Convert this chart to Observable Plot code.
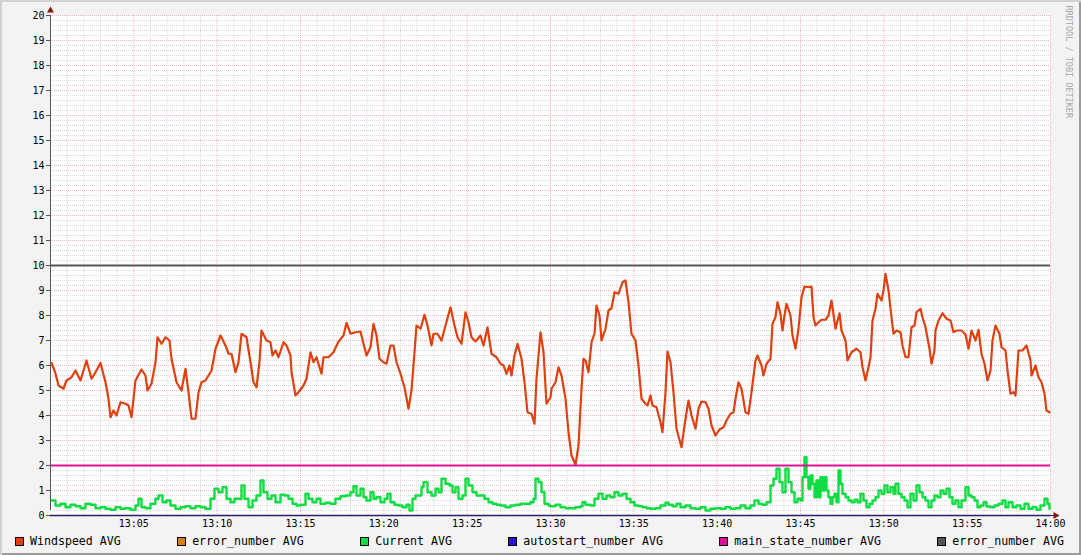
<!DOCTYPE html>
<html>
<head>
<meta charset="utf-8">
<script src="https://cdn.jsdelivr.net/npm/d3@7"></script>
<script src="https://cdn.jsdelivr.net/npm/@observablehq/plot@0.6"></script>
<style>
  html, body { margin: 0; padding: 0; background: #f3f3f3; }
  #chart {
    position: relative; width: 1081px; height: 555px; background: #f3f3f3;
    box-shadow: inset 2px 2px 0 #d2d2d2, inset -2px -2px 0 #9c9c9c;
    font-family: "DejaVu Sans Mono", monospace;
  }
  #chart svg { display: block; }
  #legend {
    display: flex; justify-content: space-between; align-items: center;
    height: 22px; padding: 0 17px 0 15px; font-size: 11.6px; color: #000;
  }
  .item { display: flex; align-items: center; white-space: pre; }
  .sw { width: 7px; height: 7px; border: 1px solid #000; margin-right: 6px; }
</style>
</head>
<body>
<div id="chart"></div>
<script>
// ---- data (time = minutes after 13:00) ----
const xTickMinutes = [5, 10, 15, 20, 25, 30, 35, 40, 45, 50, 55, 60];
const xTickLabels = ["13:05","13:10","13:15","13:20","13:25","13:30","13:35","13:40","13:45","13:50","13:55","14:00"];
const yTicks = [0,1,2,3,4,5,6,7,8,9,10,11,12,13,14,15,16,17,18,19,20];

const seriesNames = ["Windspeed AVG","error_number AVG","Current AVG","autostart_number AVG","main_state_number AVG","error_number AVG"];
const seriesColors = ["#e04010","#e07a10","#10dd44","#2a10e0","#e0109a","#555555"];

const errorNumberLevel = 10;
const mainStateLevel = 2;
const autostartLevel = 0;

const windspeed = [
[0.06,6.1],[0.28,5.73],[0.48,5.2],[0.78,5.07],[0.96,5.4],[1.26,5.53],[1.5,5.8],[1.8,5.4],[2.16,6.2],[2.46,5.47],
[2.7,5.73],[3.0,6.1],[3.3,5.33],[3.48,4.67],[3.6,3.93],[3.78,4.2],[3.96,4.0],[4.2,4.53],[4.5,4.47],[4.68,4.4],
[4.86,3.93],[5.1,5.4],[5.46,5.84],[5.7,5.6],[5.82,5.0],[6.06,5.27],[6.3,6.13],[6.42,7.13],[6.66,6.87],[6.9,7.13],
[7.14,7.0],[7.26,6.27],[7.56,5.33],[7.86,5.0],[8.1,5.87],[8.28,4.93],[8.46,3.87],[8.7,3.87],[8.88,4.93],[9.06,5.33],
[9.3,5.4],[9.42,5.53],[9.66,5.8],[9.9,6.67],[10.2,7.2],[10.5,6.8],[10.68,6.47],[10.86,6.47],[11.1,5.73],[11.28,6.13],
[11.46,7.27],[11.76,7.13],[12.0,6.13],[12.18,5.33],[12.36,5.13],[12.54,6.13],[12.66,7.4],[12.96,7.0],[13.2,6.93],[13.32,6.4],
[13.5,6.6],[13.68,6.33],[13.98,6.93],[14.16,6.8],[14.4,6.4],[14.46,5.73],[14.7,4.8],[14.88,4.93],[15.18,5.2],[15.36,5.47],
[15.6,6.53],[15.78,6.13],[15.96,6.33],[16.26,5.67],[16.38,6.33],[16.68,6.33],[16.98,6.53],[17.28,6.96],[17.58,7.2],[17.76,7.71],
[18.0,7.27],[18.3,7.33],[18.6,7.36],[18.78,6.87],[18.96,6.4],[19.2,6.73],[19.38,7.67],[19.56,7.2],[19.74,6.27],[19.98,6.13],
[20.16,6.07],[20.4,6.8],[20.58,6.8],[20.76,6.13],[21.0,5.67],[21.24,5.13],[21.48,4.27],[21.66,5.0],[21.84,6.53],[21.96,7.6],
[22.2,7.47],[22.44,8.03],[22.62,7.6],[22.86,6.8],[22.98,7.27],[23.22,7.27],[23.46,7.0],[23.7,7.6],[24.0,8.33],[24.24,7.6],
[24.42,7.13],[24.66,6.87],[24.9,8.13],[25.08,7.73],[25.26,7.13],[25.5,6.96],[25.8,7.2],[25.98,6.8],[26.22,7.53],[26.46,6.47],
[26.76,6.33],[27.0,6.07],[27.18,6.0],[27.36,5.67],[27.54,6.0],[27.66,5.6],[27.84,6.4],[28.02,6.87],[28.26,6.27],[28.44,5.33],
[28.62,4.13],[28.86,4.07],[29.04,3.67],[29.16,5.47],[29.4,7.33],[29.58,6.53],[29.76,4.47],[30.0,4.73],[30.06,5.07],[30.3,5.33],
[30.48,5.93],[30.66,5.6],[30.9,4.67],[31.08,3.33],[31.26,2.4],[31.5,2.03],[31.68,2.8],[31.86,5.07],[31.98,6.27],[32.1,6.2],
[32.28,5.73],[32.46,6.93],[32.64,7.27],[32.76,8.4],[32.94,8.0],[33.06,7.0],[33.3,7.47],[33.48,8.2],[33.66,8.29],[33.84,8.93],
[34.08,8.87],[34.32,9.33],[34.5,9.4],[34.68,8.53],[34.86,7.27],[35.1,7.0],[35.28,6.0],[35.46,4.67],[35.7,4.47],[35.82,4.4],
[36.0,4.8],[36.12,4.4],[36.36,4.33],[36.6,3.73],[36.72,3.33],[36.9,4.93],[37.02,6.56],[37.2,6.13],[37.38,4.93],[37.56,3.47],
[37.86,2.73],[38.1,3.87],[38.28,4.6],[38.46,4.0],[38.7,3.47],[38.88,4.27],[39.06,4.56],[39.3,4.53],[39.48,4.27],[39.66,3.6],
[39.9,3.2],[40.14,3.44],[40.38,3.53],[40.56,3.8],[40.8,4.07],[40.98,4.13],[41.1,4.67],[41.28,5.33],[41.46,5.07],[41.7,4.13],
[41.88,4.07],[42.06,4.93],[42.3,6.2],[42.42,6.4],[42.66,6.0],[42.78,5.6],[42.96,6.07],[43.2,6.27],[43.32,7.67],[43.5,7.93],
[43.62,8.53],[43.8,8.07],[43.92,7.4],[44.04,8.0],[44.16,8.47],[44.4,8.0],[44.52,7.2],[44.7,6.67],[44.88,7.47],[45.06,8.73],
[45.24,9.16],[45.48,9.13],[45.66,9.16],[45.78,7.93],[45.9,7.6],[46.08,7.73],[46.26,7.83],[46.5,7.83],[46.68,8.0],[46.86,8.6],
[47.1,7.47],[47.34,8.09],[47.46,7.4],[47.7,7.0],[47.82,6.2],[48.06,6.53],[48.36,6.67],[48.6,6.53],[48.72,5.93],[48.9,5.4],
[49.08,5.93],[49.2,6.33],[49.32,7.8],[49.5,8.27],[49.62,8.87],[49.86,8.6],[49.98,9.0],[50.1,9.67],[50.28,9.0],[50.46,7.93],
[50.58,7.27],[50.76,7.4],[51.0,7.33],[51.12,6.8],[51.3,6.33],[51.48,6.33],[51.66,7.53],[51.84,7.6],[51.96,8.13],[52.2,8.27],
[52.32,7.93],[52.5,7.53],[52.74,6.67],[52.86,6.07],[53.04,6.6],[53.1,7.4],[53.28,7.8],[53.52,8.09],[53.76,7.87],[54.0,7.8],
[54.18,7.33],[54.36,7.4],[54.66,7.4],[54.9,7.24],[55.08,6.67],[55.26,7.4],[55.5,7.0],[55.68,7.43],[55.86,6.47],[56.04,6.07],
[56.22,5.4],[56.4,5.8],[56.52,7.0],[56.7,7.6],[56.94,7.27],[57.06,6.73],[57.3,6.6],[57.42,5.8],[57.6,4.87],[57.78,4.93],
[57.9,4.8],[58.08,6.6],[58.32,6.6],[58.56,6.8],[58.8,6.2],[58.86,5.6],[59.1,6.0],[59.28,5.53],[59.46,5.33],[59.64,4.87],
[59.76,4.2],[59.94,4.13]
];

const current = [
[0.06,0.6],[0.3,0.4],[0.6,0.47],[0.9,0.33],[1.2,0.43],[1.5,0.37],[1.8,0.29],[2.1,0.47],[2.4,0.43],[2.7,0.29],
[3.0,0.33],[3.3,0.27],[3.6,0.23],[3.9,0.33],[4.2,0.27],[4.5,0.29],[4.8,0.23],[5.1,0.4],[5.28,0.67],[5.46,0.33],
[5.7,0.29],[6.0,0.47],[6.3,0.67],[6.48,0.8],[6.72,0.53],[6.96,0.6],[7.2,0.4],[7.5,0.27],[7.8,0.33],[8.1,0.37],
[8.4,0.29],[8.7,0.37],[9.0,0.33],[9.3,0.27],[9.6,0.67],[9.84,1.07],[10.08,0.93],[10.32,1.13],[10.56,0.67],[10.8,0.53],
[11.04,0.67],[11.28,0.67],[11.46,1.2],[11.64,0.67],[11.88,0.33],[12.12,0.6],[12.36,0.8],[12.6,1.4],[12.78,0.93],[13.02,0.67],
[13.26,0.8],[13.5,0.53],[13.8,0.83],[14.04,0.8],[14.28,0.67],[14.52,0.47],[14.76,0.4],[15.0,0.43],[15.3,0.87],[15.48,0.67],
[15.72,0.53],[15.96,0.67],[16.2,0.47],[16.5,0.51],[16.8,0.47],[17.1,0.67],[17.4,0.77],[17.7,0.8],[18.0,0.93],[18.18,1.17],
[18.36,0.8],[18.6,1.07],[18.78,0.73],[18.96,0.6],[19.2,0.93],[19.38,0.67],[19.56,0.73],[19.8,0.53],[20.04,0.67],[20.22,0.87],
[20.4,0.53],[20.64,0.43],[20.88,0.4],[21.12,0.33],[21.36,0.43],[21.54,0.2],[21.72,0.67],[21.9,0.8],[22.08,0.8],[22.26,1.13],
[22.38,1.33],[22.62,0.93],[22.86,0.8],[23.1,1.07],[23.28,0.93],[23.46,1.47],[23.7,1.27],[23.94,1.2],[24.12,0.93],[24.3,1.13],
[24.48,0.67],[24.72,0.8],[24.9,1.47],[25.08,1.2],[25.32,0.93],[25.56,0.8],[25.8,0.8],[26.04,0.67],[26.28,0.53],[26.52,0.47],
[26.76,0.43],[27.0,0.4],[27.3,0.33],[27.6,0.4],[27.9,0.43],[28.2,0.47],[28.5,0.47],[28.8,0.53],[28.98,0.67],[29.1,1.47],
[29.28,1.33],[29.46,0.93],[29.64,0.47],[29.88,0.4],[30.0,0.37],[30.3,0.43],[30.6,0.33],[30.9,0.29],[31.2,0.29],[31.5,0.33],
[31.8,0.37],[31.92,0.53],[32.1,0.43],[32.4,0.4],[32.64,0.67],[32.88,0.87],[33.12,0.67],[33.36,0.8],[33.6,0.73],[33.84,0.93],
[34.08,0.8],[34.32,0.87],[34.56,0.67],[34.8,0.53],[35.04,0.4],[35.28,0.37],[35.52,0.33],[35.76,0.29],[36.0,0.27],[36.3,0.29],
[36.6,0.4],[36.9,0.51],[37.08,0.43],[37.32,0.37],[37.56,0.47],[37.8,0.33],[38.1,0.4],[38.4,0.29],[38.7,0.27],[39.0,0.33],
[39.3,0.2],[39.6,0.27],[39.9,0.29],[40.2,0.27],[40.5,0.33],[40.8,0.27],[41.1,0.29],[41.4,0.4],[41.7,0.29],[42.0,0.4],
[42.24,0.6],[42.48,0.47],[42.72,0.43],[42.96,0.53],[43.2,1.2],[43.38,1.47],[43.56,1.87],[43.74,1.33],[43.92,0.93],[44.1,1.87],
[44.28,1.33],[44.46,0.93],[44.64,0.53],[44.82,0.67],[45.0,0.6],[45.12,1.53],[45.24,2.33],[45.36,1.53],[45.48,1.07],[45.6,1.6],
[45.72,1.27],[45.84,0.73],[45.96,1.4],[46.08,0.73],[46.2,1.53],[46.32,1.0],[46.44,1.53],[46.56,1.0],[46.68,0.73],[46.8,0.47],
[46.92,0.73],[47.04,0.87],[47.16,0.53],[47.28,1.8],[47.4,1.27],[47.52,0.87],[47.7,0.73],[47.88,0.6],[48.06,0.53],[48.24,0.63],
[48.42,0.53],[48.6,0.87],[48.78,0.6],[48.96,0.33],[49.14,0.47],[49.32,0.6],[49.5,0.73],[49.68,1.0],[49.86,0.87],[50.04,1.2],
[50.22,0.93],[50.4,1.13],[50.58,0.87],[50.7,1.27],[50.88,0.87],[51.06,0.73],[51.24,0.6],[51.42,0.33],[51.6,0.87],[51.78,0.6],
[51.96,1.2],[52.14,0.93],[52.32,0.73],[52.5,0.6],[52.68,0.33],[52.86,0.6],[53.04,0.8],[53.22,0.73],[53.4,1.0],[53.58,0.87],
[53.76,1.07],[53.94,0.73],[54.12,0.47],[54.3,0.6],[54.48,0.33],[54.66,0.6],[54.9,1.13],[55.08,0.8],[55.26,0.73],[55.44,0.6],
[55.62,0.33],[55.8,0.4],[55.98,0.53],[56.16,0.36],[56.4,0.33],[56.64,0.4],[56.88,0.47],[57.12,0.6],[57.3,0.33],[57.48,0.53],
[57.72,0.33],[57.96,0.4],[58.2,0.27],[58.44,0.47],[58.68,0.27],[58.92,0.33],[59.16,0.23],[59.4,0.4],[59.64,0.67],[59.82,0.47],
[59.94,0.27]
];

const credit = "RRDTOOL / TOBI OETIKER";

// ---- grid positions ----
const minorX = d3.range(1, 60).filter(m => m % 5 !== 0);
const majorX = d3.range(5, 61, 5);
const minorY = d3.range(0, 100).map(i => i / 5).filter(v => Math.abs(v - Math.round(v)) > 1e-9);
const majorY = d3.range(1, 21);

const mono = "DejaVu Sans Mono, monospace";

const plot = Plot.plot({
  width: 1081,
  height: 530,
  marginLeft: 50,
  marginRight: 31,
  marginTop: 15,
  marginBottom: 15,
  style: { background: "transparent", fontFamily: mono, fontSize: "10px", color: "#000", overflow: "visible" },
  x: { type: "linear", domain: [0, 60], axis: null },
  y: { type: "linear", domain: [0, 20], axis: null },
  marks: [
    Plot.frame({ fill: "#ffffff", stroke: "none" }),
    Plot.ruleX(minorX, { stroke: "#dadada", strokeDasharray: "1,1", strokeWidth: 1 }),
    Plot.ruleY(minorY, { stroke: "#dadada", strokeDasharray: "1,1", strokeWidth: 1 }),
    Plot.ruleX(majorX, { stroke: "#f2b4b4", strokeDasharray: "1,1", strokeWidth: 1 }),
    Plot.ruleY(majorY, { stroke: "#f2b4b4", strokeDasharray: "1,1", strokeWidth: 1 }),
    Plot.axisY({ ticks: yTicks, tickSize: 4, tickPadding: 2, tickFormat: d => String(d), label: null, stroke: "#555", fontSize: 10, fontFamily: mono }),
    Plot.axisX({ ticks: xTickMinutes, tickSize: 0, tickPadding: 4, tickFormat: (d, i) => xTickLabels[i], label: null, fontSize: 10, fontFamily: mono }),
    Plot.line(windspeed, { x: d => d[0], y: d => d[1], stroke: seriesColors[0], strokeWidth: 2.2, curve: "linear" }),
    Plot.ruleY([autostartLevel], { stroke: "#2d1d66", strokeWidth: 1.5 }),
    Plot.line(current, { x: d => d[0], y: d => d[1], stroke: seriesColors[2], strokeWidth: 2.4, curve: "step-after" }),
    Plot.ruleY([mainStateLevel], { stroke: seriesColors[4], strokeWidth: 2 }),
    Plot.ruleY([errorNumberLevel], { stroke: seriesColors[5], strokeWidth: 2 }),
    Plot.ruleX([0], { y1: 0, y2: 20, stroke: "#555", strokeWidth: 1, insetTop: -5 }),
    Plot.ruleY([0], { x1: 0, x2: 60, stroke: "#2d1d66", strokeWidth: 1, insetRight: -5 }),
    Plot.dot([[0, 20]], { x: d => d[0], y: d => d[1], symbol: "triangle", r: 2.6, fill: "#8b1010", stroke: "none", dy: -5 }),
    Plot.dot([[60, 0]], { x: d => d[0], y: d => d[1], symbol: "triangle", r: 2.6, fill: "#8b1010", stroke: "none", rotate: 90, dx: 5 }),
    Plot.text([credit], { text: d => d, frameAnchor: "top-right", dx: 22, dy: -10, rotate: 90, textAnchor: "start", fill: "#a8a8a8", fontSize: 8.5, fontFamily: mono })
  ]
});

const chart = document.getElementById("chart");
chart.appendChild(plot);

const legend = document.createElement("div");
legend.id = "legend";
seriesNames.forEach((name, i) => {
  const item = document.createElement("div");
  item.className = "item";
  const sw = document.createElement("span");
  sw.className = "sw";
  sw.style.background = seriesColors[i];
  const label = document.createElement("span");
  label.textContent = name;
  item.appendChild(sw);
  item.appendChild(label);
  legend.appendChild(item);
});
chart.appendChild(legend);
</script>
</body>
</html>
